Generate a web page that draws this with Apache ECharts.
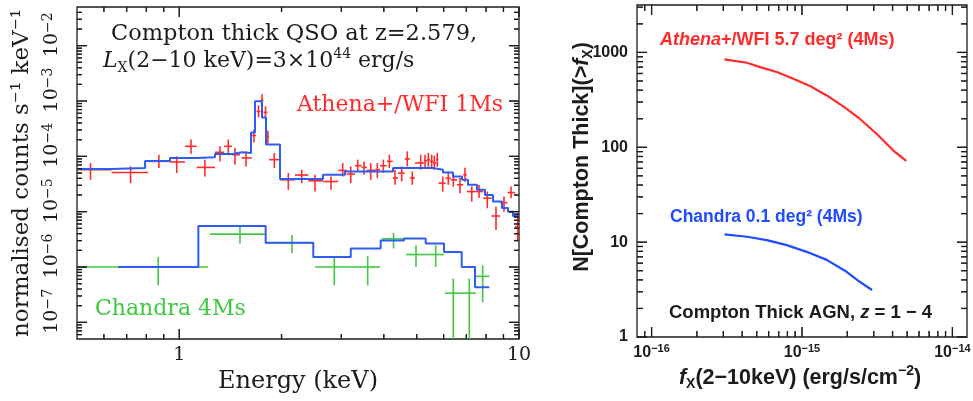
<!DOCTYPE html>
<html>
<head>
<meta charset="utf-8">
<script src="https://cdn.jsdelivr.net/npm/echarts@6.0.0/dist/echarts.min.js"></script>
<style>
html,body{margin:0;padding:0;background:#ffffff;}
#chart{width:973px;height:401px;}
</style>
</head>
<body>
<div id="chart"></div>
<script>
// ===== Left panel: simulated X-ray spectrum =====
// Athena+/WFI model (step): bin edges in keV, model values
const athenaModelEdges = [0.5,0.632,0.793,0.939,1.125,1.274,1.439,1.527,1.626,1.671,1.752,1.800,1.979,2.649,3.074,4.257,5.582,5.974,6.393,6.796,7.077,7.521,7.941,8.383,8.911,9.282,9.601,10];
const athenaModelValues = [5.90e-5,6.15e-5,8.24e-5,9.35e-5,9.59e-5,1.106e-4,1.183e-4,1.153e-4,2.70e-4,9.89e-4,5.06e-4,1.633e-4,3.88e-5,4.65e-5,5.34e-5,6.15e-5,5.73e-5,5.12e-5,4.33e-5,3.77e-5,3.06e-5,2.48e-5,2.01e-5,1.52e-5,1.17e-5,1.0e-5,8.35e-6];

// Athena+/WFI 1Ms simulated data
const athenaE   = [0.548,0.719,0.871,0.983,1.083,1.190,1.318,1.394,1.459,1.572,1.659,1.711,1.752,1.794,1.823,1.904,2.094,2.293,2.509,2.797,3.027,3.197,3.352,3.498,3.660,3.828,3.987,4.153,4.315,4.515,4.690,4.852,5.136,5.289,5.408,5.534,5.633,5.748,5.962,6.193,6.407,6.704,6.935,7.259,7.627,8.067,8.557,9.033,9.474,9.913];
const athenaELo = [0.5,0.632,0.810,0.939,1.039,1.125,1.274,1.355,1.430,1.526,1.637,1.688,1.734,1.770,1.810,1.836,1.979,2.191,2.398,2.654,2.938,3.111,3.291,3.444,3.569,3.769,3.899,4.080,4.249,4.404,4.608,4.777,4.942,5.250,5.361,5.471,5.583,5.698,5.795,6.080,6.300,6.570,6.850,7.020,7.450,7.850,8.300,8.800,9.250,9.732];
const athenaEHi = [0.632,0.810,0.939,1.039,1.125,1.274,1.355,1.430,1.509,1.634,1.682,1.734,1.770,1.818,1.836,1.979,2.191,2.398,2.654,2.938,3.111,3.291,3.444,3.569,3.769,3.899,4.080,4.249,4.404,4.608,4.777,4.942,5.250,5.361,5.471,5.583,5.698,5.795,6.080,6.300,6.570,6.850,7.020,7.450,7.850,8.300,8.800,9.250,9.732,10.0];
const athenaV   = [5.73e-5,5.12e-5,8.11e-5,7.91e-5,1.52e-4,6.31e-5,1.182e-4,1.52e-4,1.074e-4,9.35e-5,2.379e-4,6.50e-4,1.03e-3,6.23e-4,2.28e-4,8.71e-5,3.77e-5,4.59e-5,3.615e-5,3.51e-5,5.56e-5,4.79e-5,6.77e-5,6.31e-5,5.56e-5,5.73e-5,6.77e-5,8.11e-5,4.05e-5,4.99e-5,8.97e-5,4.05e-5,7.59e-5,8.35e-5,8.71e-5,8.11e-5,7.59e-5,8.71e-5,3.28e-5,4.05e-5,3.77e-5,3.06e-5,4.65e-5,2.31e-5,2.31e-5,1.752e-5,8.35e-6,1.458e-5,2.215e-5,5.34e-6];
const athenaVLo = [3.77e-5,3.28e-5,6.15e-5,4.99e-5,1.119e-4,4.33e-5,8.11e-5,1.153e-4,7.06e-5,6.58e-5,1.775e-4,5.05e-4,8.01e-4,4.85e-4,1.70e-4,6.15e-5,2.48e-5,3.28e-5,2.31e-5,2.48e-5,4.33e-5,3.28e-5,5.34e-5,4.65e-5,3.77e-5,4.05e-5,4.99e-5,6.15e-5,3.06e-5,3.51e-5,6.58e-5,3.06e-5,5.73e-5,6.15e-5,6.50e-5,6.23e-5,5.73e-5,6.50e-5,2.31e-5,3.06e-5,2.81e-5,2.16e-5,3.47e-5,1.52e-5,1.775e-5,1.153e-5,4.65e-6,1.0e-5,1.752e-5,3.06e-6];
const athenaVHi = [7.59e-5,6.58e-5,1.074e-4,1.0e-4,2.012e-4,8.71e-5,1.52e-4,2.012e-4,1.421e-4,1.233e-4,3.058e-4,8.35e-4,1.32e-3,8.01e-4,2.93e-4,1.153e-4,4.99e-5,5.73e-5,4.65e-5,4.33e-5,7.59e-5,6.58e-5,8.71e-5,8.11e-5,7.59e-5,7.59e-5,8.71e-5,1.074e-4,5.73e-5,6.58e-5,1.233e-4,5.34e-5,1.074e-4,1.074e-4,1.153e-4,1.074e-4,1.03e-4,1.153e-4,4.33e-5,5.34e-5,4.99e-5,4.05e-5,6.23e-5,2.85e-5,3.06e-5,2.31e-5,1.233e-5,1.874e-5,2.85e-5,9.47e-6];

// Chandra 4Ms model (step)
const chandraModelEdges  = [0.661,1.138,1.796,2.480,3.197,3.916,4.586,5.313,6.015,6.782,7.423,8.177];
const chandraModelValues = [1.0e-6,5.495e-6,2.731e-6,1.520e-6,2.160e-6,3.020e-6,3.283e-6,2.664e-6,1.874e-6,1.0e-6,4.329e-7];

// Chandra 4Ms simulated data
const chandraE   = [0.867,1.509,2.147,2.860,3.586,4.272,4.975,5.686,6.407,7.141,7.819];
const chandraELo = [0.5,1.231,1.788,2.509,3.291,3.943,4.649,5.349,6.056,6.763,7.423];
const chandraEHi = [1.217,1.788,2.480,3.291,3.899,4.617,5.349,6.015,6.763,7.472,8.177];
const chandraV   = [1.0e-6,3.93e-6,2.731e-6,1.0e-6,1.0e-6,3.228e-6,1.680e-6,1.680e-6,3.368e-7,3.368e-7,6.774e-7];
const chandraVLo = [4.647e-7,2.664e-6,1.775e-6,4.647e-7,4.647e-7,2.160e-6,1.0e-6,1.0e-6,1e-9,1e-9,2.310e-7];
const chandraVHi = [1.52e-6,5.336e-6,3.77e-6,1.565e-6,1.565e-6,4.151e-6,2.480e-6,2.480e-6,6.152e-7,6.152e-7,1.074e-6];

// ===== Right panel: cumulative number counts =====
const athenaFlux  = [3.05e-16,4.3e-16,5.27e-16,6.8e-16,8.75e-16,1.13e-15,1.46e-15,1.88e-15,2.42e-15,3.13e-15,4.03e-15,4.93e-15];
const athenaN     = [844,778,700,621,529,442,352,270,200,139,93,72];
const chandraFlux = [3.05e-16,4.31e-16,5.83e-16,7.92e-16,1.074e-15,1.46e-15,1.98e-15,2.42e-15,2.92e-15];
const chandraN    = [12.05,11.4,10.5,9.3,7.9,6.5,4.87,3.82,3.13];

// ===== Axis tick values and labels (rich-text markup) =====
const specXMajor = [1, 10];
const specXLabels = ['1', '10'];
const specYMajor = [1e-7, 1e-6, 1e-5, 1e-4, 1e-3, 1e-2];
const specYLabels = ['{b|10}{s|−7}', '{b|10}{s|−6}', '{b|10}{s|−5}', '{b|10}{s|−4}', '{b|10}{s|−3}', '{b|10}{s|−2}'];
const ntXMajor = [1e-16, 1e-15, 1e-14];
const ntXLabels = ['{b|10}{s|−16}', '{b|10}{s|−15}', '{b|10}{s|−14}'];
const ntYMajor = [1, 10, 100, 1000];
const ntYLabels = ['1', '10', '100', '1000'];

const SERIF = 'DejaVu Serif';
const SANS = 'Liberation Sans';
const INK = '#1c1c1c';
const RED = '#ff2b2b';
const BLUE = '#2f5cf2';
const GREEN = '#40c840';
const RBLUE = '#1f4cff';

function labelFor(majors, labels) {
  return function (v) {
    const lv = Math.log10(v);
    for (let i = 0; i < majors.length; i++) {
      if (Math.abs(lv - Math.log10(majors[i])) < 1e-6) return labels[i];
    }
    return '';
  };
}
function minorTicks(min, max) {
  const out = [];
  for (let e = Math.floor(Math.log10(min)); e <= Math.ceil(Math.log10(max)); e++) {
    for (let k = 2; k <= 9; k++) {
      const v = k * Math.pow(10, e);
      if (v > min * 1.0001 && v < max * 0.9999) out.push(v);
    }
  }
  return out;
}
function stepData(edges, vals) {
  const d = [];
  for (let i = 0; i < vals.length; i++) {
    d.push([edges[i], vals[i]]);
    d.push([edges[i + 1], vals[i]]);
  }
  return d;
}
function crossRender(color) {
  return function (params, api) {
    const cs = params.coordSys;
    const c = api.coord([api.value(0), api.value(1)]);
    const l = api.coord([api.value(2), api.value(1)]);
    const r = api.coord([api.value(3), api.value(1)]);
    const b = api.coord([api.value(0), api.value(4)]);
    const t = api.coord([api.value(0), api.value(5)]);
    const cy = y => Math.max(cs.y, Math.min(cs.y + cs.height, y));
    const cx = x => Math.max(cs.x, Math.min(cs.x + cs.width, x));
    const st = { stroke: color, lineWidth: 1.6 };
    return { type: 'group', children: [
      { type: 'line', shape: { x1: cx(l[0]), y1: c[1], x2: cx(r[0]), y2: c[1] }, style: st },
      { type: 'line', shape: { x1: c[0], y1: cy(b[1]), x2: c[0], y2: cy(t[1]) }, style: st }
    ] };
  };
}
function crossData(E, ELo, EHi, V, VLo, VHi) {
  return E.map((e, i) => [e, V[i], ELo[i], EHi[i], VLo[i], VHi[i]]);
}
// log-axis tick marks (majors + 2..9 minors) on all four sides, as rect symbols placed by the axes
function tickItems(xr, yr, xMaj, yMaj, majLen, minLen) {
  const items = [];
  const w = 1.3;
  const xs = xMaj.map(v => [v, majLen]).concat(minorTicks(xr[0], xr[1]).map(v => [v, minLen]));
  xs.forEach(([v, len]) => {
    items.push({ value: [v, yr[0]], symbolSize: [w, len], symbolOffset: [0, -len / 2] });
    items.push({ value: [v, yr[1]], symbolSize: [w, len], symbolOffset: [0, len / 2] });
  });
  const ys = yMaj.map(v => [v, majLen]).concat(minorTicks(yr[0], yr[1]).map(v => [v, minLen]));
  ys.forEach(([v, len]) => {
    items.push({ value: [xr[0], v], symbolSize: [len, w], symbolOffset: [len / 2, 0] });
    items.push({ value: [xr[1], v], symbolSize: [len, w], symbolOffset: [-len / 2, 0] });
  });
  return items;
}

const specX = [0.5, 10], specY = [5e-8, 0.05];
const ntX = [8e-17, 1.25e-14], ntY = [1, 3162.28];

const chart = echarts.init(document.getElementById('chart'), null, { renderer: 'canvas' });

const baseAxis = {
  type: 'log', logBase: 10,
  axisLine: { show: false }, axisTick: { show: false },
  splitLine: { show: false }, minorTick: { show: false }, minorSplitLine: { show: false }
};

const graphics = [
  { type: 'text', x: 111, y: 34, style: { text: 'Compton thick QSO at z=2.579,', fontFamily: SERIF, fontSize: 22.5, fill: INK, align: 'left', verticalAlign: 'middle' } },
  { type: 'text', x: 103, y: 61, style: {
    text: '{i|L}{s|X}{n|(2−10 keV)=3×10}{p|44}{n| erg/s}', align: 'left', verticalAlign: 'middle',
    rich: {
      n: { fontFamily: SERIF, fontSize: 22, fill: INK, lineHeight: 28 },
      i: { fontFamily: SERIF, fontSize: 22, fontStyle: 'italic', fill: INK, lineHeight: 28 },
      s: { fontFamily: SERIF, fontSize: 14, fill: INK, lineHeight: 14, verticalAlign: 'bottom' },
      p: { fontFamily: SERIF, fontSize: 14, fill: INK, lineHeight: 14, verticalAlign: 'top' }
    } } },
  { type: 'text', x: 297, y: 105, style: { text: 'Athena+/WFI 1Ms', fontFamily: SERIF, fontSize: 22, fill: RED, align: 'left', verticalAlign: 'middle' } },
  { type: 'text', x: 95, y: 309, style: { text: 'Chandra 4Ms', fontFamily: SERIF, fontSize: 22, fill: GREEN, align: 'left', verticalAlign: 'middle' } },
  { type: 'text', x: 660, y: 40, style: {
    text: '{i|Athena}{n|+/WFI 5.7 deg² (4Ms)}', align: 'left', verticalAlign: 'middle',
    rich: {
      i: { fontFamily: SANS, fontSize: 18, fontWeight: 'bold', fontStyle: 'italic', fill: RED },
      n: { fontFamily: SANS, fontSize: 18, fontWeight: 'bold', fill: RED }
    } } },
  { type: 'text', x: 670, y: 217, style: { text: 'Chandra 0.1 deg² (4Ms)', fontFamily: SANS, fontSize: 17.5, fontWeight: 'bold', fill: RBLUE, align: 'left', verticalAlign: 'middle' } },
  { type: 'text', x: 669, y: 313, style: {
    text: '{n|Compton Thick AGN, }{i|z}{n| = 1 − 4}', align: 'left', verticalAlign: 'middle',
    rich: {
      n: { fontFamily: SANS, fontSize: 18.5, fontWeight: 'bold', fill: INK },
      i: { fontFamily: SANS, fontSize: 18.5, fontWeight: 'bold', fontStyle: 'italic', fill: INK }
    } } },
  { type: 'text', x: 582, y: 157, rotation: Math.PI / 2, style: {
    text: '{n|N[Compton Thick](>}{i|f}{s|X}{n|)}', align: 'center', verticalAlign: 'middle',
    rich: {
      n: { fontFamily: SANS, fontSize: 21.5, fontWeight: 'bold', fill: INK, lineHeight: 27 },
      i: { fontFamily: SANS, fontSize: 21.5, fontWeight: 'bold', fontStyle: 'italic', fill: INK, lineHeight: 27 },
      s: { fontFamily: SANS, fontSize: 14, fontWeight: 'bold', fill: INK, lineHeight: 14, verticalAlign: 'bottom' }
    } } },
  { type: 'text', x: 800, y: 378, style: {
    text: '{i|f}{s|X}{n|(2−10keV) (erg/s/cm}{p|−2}{n|)}', align: 'center', verticalAlign: 'middle',
    rich: {
      n: { fontFamily: SANS, fontSize: 21.5, fontWeight: 'bold', fill: INK, lineHeight: 27 },
      i: { fontFamily: SANS, fontSize: 21.5, fontWeight: 'bold', fontStyle: 'italic', fill: INK, lineHeight: 27 },
      s: { fontFamily: SANS, fontSize: 14, fontWeight: 'bold', fill: INK, lineHeight: 14, verticalAlign: 'bottom' },
      p: { fontFamily: SANS, fontSize: 14, fontWeight: 'bold', fill: INK, lineHeight: 14, verticalAlign: 'top' }
    } } }
];

const option = {
  animation: false,
  backgroundColor: '#ffffff',
  grid: [
    { left: 77, top: 7, width: 442, height: 332, show: true, borderColor: INK, borderWidth: 1.3, backgroundColor: 'transparent', containLabel: false, outerBoundsMode: 'none' },
    { left: 637, top: 5, width: 330, height: 332, show: true, borderColor: INK, borderWidth: 1.3, backgroundColor: 'transparent', containLabel: false, outerBoundsMode: 'none' }
  ],
  xAxis: [
    Object.assign({}, baseAxis, {
      gridIndex: 0, min: specX[0], max: specX[1],
      axisLabel: { formatter: labelFor(specXMajor, specXLabels), fontFamily: SERIF, fontSize: 19, color: INK, margin: 7 },
      name: 'Energy (keV)', nameLocation: 'middle', nameGap: 31,
      nameTextStyle: { fontFamily: SERIF, fontSize: 24, color: INK }
    }),
    Object.assign({}, baseAxis, {
      gridIndex: 1, min: ntX[0], max: ntX[1],
      axisLabel: { formatter: labelFor(ntXMajor, ntXLabels), color: INK, margin: 6,
        rich: {
          b: { fontFamily: SANS, fontWeight: 'bold', fontSize: 16, color: INK, lineHeight: 20 },
          s: { fontFamily: SANS, fontWeight: 'bold', fontSize: 11, color: INK, lineHeight: 11, verticalAlign: 'top' }
        } }
    })
  ],
  yAxis: [
    Object.assign({}, baseAxis, {
      gridIndex: 0, min: specY[0], max: specY[1],
      axisLabel: { formatter: labelFor(specYMajor, specYLabels), rotate: 90, color: INK, margin: 14, padding: [0, 0, 0, 22],
        rich: {
          b: { fontFamily: SERIF, fontSize: 19, color: INK, lineHeight: 22 },
          s: { fontFamily: SERIF, fontSize: 14, color: INK, lineHeight: 14, verticalAlign: 'top' }
        } },
      name: 'normalised counts s⁻¹ keV⁻¹', nameLocation: 'middle', nameGap: 43, nameRotate: 90,
      nameTextStyle: { fontFamily: SERIF, fontSize: 23, color: INK }
    }),
    Object.assign({}, baseAxis, {
      gridIndex: 1, min: ntY[0], max: ntY[1],
      axisLabel: { formatter: labelFor(ntYMajor, ntYLabels), fontFamily: SANS, fontWeight: 'bold', fontSize: 16, color: INK, margin: 9 }
    })
  ],
  graphic: graphics,
  series: [
    { name: 'spec ticks', type: 'scatter', xAxisIndex: 0, yAxisIndex: 0, zlevel: 1, z: 1, clip: false,
      symbol: 'rect', itemStyle: { color: INK }, data: tickItems(specX, specY, specXMajor, specYMajor, 10, 5) },
    { name: 'nt ticks', type: 'scatter', xAxisIndex: 1, yAxisIndex: 1, zlevel: 1, z: 1, clip: false,
      symbol: 'rect', itemStyle: { color: INK }, data: tickItems(ntX, ntY, ntXMajor, ntYMajor, 10, 6) },
    { name: 'Athena data', type: 'custom', xAxisIndex: 0, yAxisIndex: 0, silent: true, z: 3,
      encode: { x: 0, y: 1 }, data: crossData(athenaE, athenaELo, athenaEHi, athenaV, athenaVLo, athenaVHi), renderItem: crossRender(RED) },
    { name: 'Chandra data', type: 'custom', xAxisIndex: 0, yAxisIndex: 0, silent: true, z: 3,
      encode: { x: 0, y: 1 }, data: crossData(chandraE, chandraELo, chandraEHi, chandraV, chandraVLo, chandraVHi), renderItem: crossRender(GREEN) },
    { name: 'Athena model', type: 'line', xAxisIndex: 0, yAxisIndex: 0, silent: true, z: 4,
      data: stepData(athenaModelEdges, athenaModelValues), symbol: 'none', showSymbol: false,
      lineStyle: { color: BLUE, width: 2 }, itemStyle: { color: BLUE } },
    { name: 'Chandra model', type: 'line', xAxisIndex: 0, yAxisIndex: 0, silent: true, z: 4,
      data: stepData(chandraModelEdges, chandraModelValues), symbol: 'none', showSymbol: false,
      lineStyle: { color: BLUE, width: 2 }, itemStyle: { color: BLUE } },
    { name: 'Athena N', type: 'line', xAxisIndex: 1, yAxisIndex: 1, silent: true, z: 4,
      data: athenaFlux.map((f, i) => [f, athenaN[i]]), symbol: 'none', showSymbol: false,
      lineStyle: { color: RED, width: 2.2 }, itemStyle: { color: RED } },
    { name: 'Chandra N', type: 'line', xAxisIndex: 1, yAxisIndex: 1, silent: true, z: 4,
      data: chandraFlux.map((f, i) => [f, chandraN[i]]), symbol: 'none', showSymbol: false,
      lineStyle: { color: RBLUE, width: 2.2 }, itemStyle: { color: RBLUE } }
  ]
};
chart.setOption(option);

// fallback: same tick marks as graphic lines on their own layer, positioned through the axes' scales
try {
  const tickLines = [];
  const addTicks = (gi, xr, yr, xMaj, yMaj, majLen, minLen) => {
    const finder = { xAxisIndex: gi, yAxisIndex: gi };
    const pA = chart.convertToPixel(finder, [xr[0], yr[0]]);
    const pB = chart.convertToPixel(finder, [xr[1], yr[1]]);
    const xMid = Math.sqrt(xr[0] * xr[1]), yMid = Math.sqrt(yr[0] * yr[1]);
    const st = { stroke: INK, lineWidth: 1.2 };
    xMaj.map(v => [v, majLen]).concat(minorTicks(xr[0], xr[1]).map(v => [v, minLen])).forEach(([v, len]) => {
      const x = chart.convertToPixel(finder, [v, yMid])[0];
      tickLines.push({ type: 'line', zlevel: 2, silent: true, shape: { x1: x, y1: pA[1], x2: x, y2: pA[1] - len }, style: st });
      tickLines.push({ type: 'line', zlevel: 2, silent: true, shape: { x1: x, y1: pB[1], x2: x, y2: pB[1] + len }, style: st });
    });
    yMaj.map(v => [v, majLen]).concat(minorTicks(yr[0], yr[1]).map(v => [v, minLen])).forEach(([v, len]) => {
      const y = chart.convertToPixel(finder, [xMid, v])[1];
      tickLines.push({ type: 'line', zlevel: 2, silent: true, shape: { x1: pA[0], y1: y, x2: pA[0] + len, y2: y }, style: st });
      tickLines.push({ type: 'line', zlevel: 2, silent: true, shape: { x1: pB[0], y1: y, x2: pB[0] - len, y2: y }, style: st });
    });
  };
  addTicks(0, specX, specY, specXMajor, specYMajor, 10, 5);
  addTicks(1, ntX, ntY, ntXMajor, ntYMajor, 10, 6);
  chart.setOption({ graphic: graphics.concat(tickLines) });
} catch (e) { /* ticks already drawn by the scatter series */ }
</script>
</body>
</html>
